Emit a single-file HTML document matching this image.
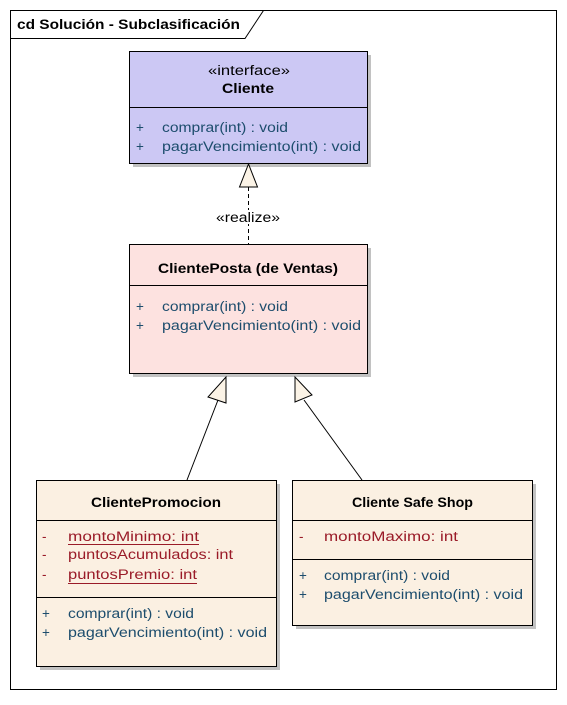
<!DOCTYPE html>
<html><head><style>
body{margin:0;background:#fff;}
svg text{font-family:"Liberation Sans",sans-serif;font-size:13.5px;}
</style></head><body>
<svg width="567" height="700" xmlns="http://www.w3.org/2000/svg">
<rect x="0" y="0" width="567" height="700" fill="#fff"/>
<rect x="10.5" y="10.5" width="546" height="679" fill="#fff" stroke="#000"/>
<path d="M10.5 38.5 H245 L263.5 10.5" fill="none" stroke="#000"/>
<text x="17" y="29" font-weight="bold" textLength="223" lengthAdjust="spacingAndGlyphs">cd Solución - Subclasificación</text>
<g fill="#999" opacity="0.6">
<rect x="133" y="55" width="238" height="112"/><rect x="133" y="248" width="238" height="129"/>
<rect x="40" y="484" width="240" height="186"/><rect x="296" y="484" width="240" height="145"/>
</g>
<!-- Cliente -->
<rect x="129.5" y="51.5" width="238" height="112" fill="#ccc8f4" stroke="#000"/>
<line x1="129.5" y1="107.5" x2="367.5" y2="107.5" stroke="#000"/>
<text x="208" y="75" textLength="82" lengthAdjust="spacingAndGlyphs">«interface»</text>
<text x="222" y="93" font-weight="bold" textLength="52" lengthAdjust="spacingAndGlyphs">Cliente</text>
<g fill="#1d4d6d"><text x="136" y="132">+</text><text x="162" y="132" textLength="126" lengthAdjust="spacingAndGlyphs">comprar(int) : void</text>
<text x="136" y="151">+</text><text x="162" y="151" textLength="199" lengthAdjust="spacingAndGlyphs">pagarVencimiento(int) : void</text></g>
<!-- realize -->
<line x1="248.5" y1="187" x2="248.5" y2="244" stroke="#000" stroke-dasharray="4,3"/>
<polygon points="248.5,164 239.5,187 257.5,187" fill="#fbf3e6" stroke="#000"/>
<rect x="213" y="210" width="70" height="14" fill="#fff"/>
<text x="216" y="222" textLength="64" lengthAdjust="spacingAndGlyphs">«realize»</text>
<!-- ClientePosta -->
<rect x="129.5" y="244.5" width="238" height="129" fill="#fde2e0" stroke="#000"/>
<line x1="129.5" y1="285.5" x2="367.5" y2="285.5" stroke="#000"/>
<text x="158" y="273" font-weight="bold" textLength="180" lengthAdjust="spacingAndGlyphs">ClientePosta (de Ventas)</text>
<g fill="#1d4d6d"><text x="136" y="311">+</text><text x="162" y="311" textLength="126" lengthAdjust="spacingAndGlyphs">comprar(int) : void</text>
<text x="136" y="330">+</text><text x="162" y="330" textLength="199" lengthAdjust="spacingAndGlyphs">pagarVencimiento(int) : void</text></g>
<!-- generalizations -->
<line x1="218" y1="400" x2="187" y2="480" stroke="#000"/>
<polygon points="226,377 208,397 226,403" fill="#fbf3e6" stroke="#000"/>
<line x1="304" y1="400" x2="362" y2="480" stroke="#000"/>
<polygon points="295,377 295,402 312,395" fill="#fbf3e6" stroke="#000"/>
<!-- ClientePromocion -->
<rect x="36.5" y="480.5" width="240" height="186" fill="#fbf0e2" stroke="#000"/>
<line x1="36.5" y1="520.5" x2="276.5" y2="520.5" stroke="#000"/>
<line x1="36.5" y1="597.5" x2="276.5" y2="597.5" stroke="#000"/>
<text x="91" y="507" font-weight="bold" textLength="130" lengthAdjust="spacingAndGlyphs">ClientePromocion</text>
<g fill="#9a1b28"><text x="42" y="541">-</text><text x="68" y="541" textLength="131" lengthAdjust="spacingAndGlyphs">montoMinimo:  int</text>
<text x="42" y="559">-</text><text x="68" y="559" textLength="165" lengthAdjust="spacingAndGlyphs">puntosAcumulados:  int</text>
<text x="42" y="579">-</text><text x="68" y="579" textLength="129" lengthAdjust="spacingAndGlyphs">puntosPremio:  int</text></g>
<line x1="68" y1="544.5" x2="199" y2="544.5" stroke="#9a1b28"/>
<line x1="68" y1="583.5" x2="197" y2="583.5" stroke="#9a1b28"/>
<g fill="#1d4d6d"><text x="42" y="618">+</text><text x="68" y="618" textLength="126" lengthAdjust="spacingAndGlyphs">comprar(int) : void</text>
<text x="42" y="637">+</text><text x="68" y="637" textLength="199" lengthAdjust="spacingAndGlyphs">pagarVencimiento(int) : void</text></g>
<!-- ClienteSafeShop -->
<rect x="292.5" y="480.5" width="240" height="145" fill="#fbf0e2" stroke="#000"/>
<line x1="292.5" y1="520.5" x2="532.5" y2="520.5" stroke="#000"/>
<line x1="292.5" y1="559.5" x2="532.5" y2="559.5" stroke="#000"/>
<text x="352" y="507" font-weight="bold" textLength="121" lengthAdjust="spacingAndGlyphs">Cliente Safe Shop</text>
<g fill="#9a1b28"><text x="299" y="541">-</text><text x="324" y="541" textLength="134" lengthAdjust="spacingAndGlyphs">montoMaximo:  int</text></g>
<g fill="#1d4d6d"><text x="299" y="580">+</text><text x="324" y="580" textLength="126" lengthAdjust="spacingAndGlyphs">comprar(int) : void</text>
<text x="299" y="599">+</text><text x="324" y="599" textLength="199" lengthAdjust="spacingAndGlyphs">pagarVencimiento(int) : void</text></g>
</svg>
</body></html>
